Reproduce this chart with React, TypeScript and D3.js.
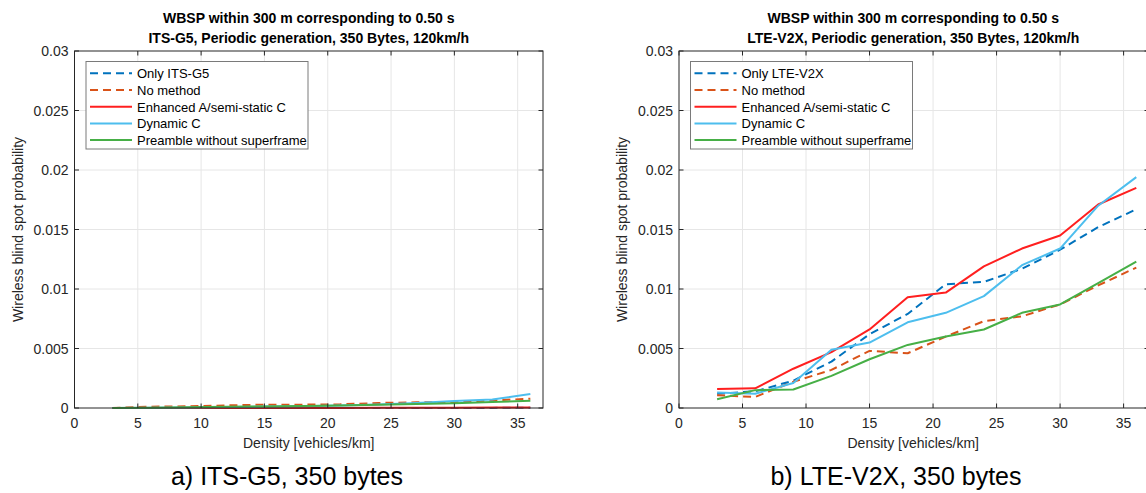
import React from "react";
import * as d3 from "d3";

// Density values (vehicles/km) shared by every series
const density = [3, 6, 9, 12, 15, 18, 21, 24, 27, 30, 33, 36];

const xTicks = [0, 5, 10, 15, 20, 25, 30, 35];
const yTicks = [0, 0.005, 0.01, 0.015, 0.02, 0.025, 0.03];

// ITS-G5 panel
const itsOnly = [0, 0, 0, 0, 0, 0, 0, 0, 0.00001, 0.00001, 0.00001, 0.00002];
const itsNoMethod = [0, 0.00011, 0.00014, 0.00022, 0.00028, 0.00028, 0.00031, 0.00042, 0.00048, 0.0005, 0.00064, 0.00078];
const itsEnhanced = [0, 0, 0, 0, 0, 0.00001, 0.00001, 0.00002, 0.00002, 0.00003, 0.00004, 0.00005];
const itsDynamic = [0, 0.00002, 0.00005, 0.00008, 0.00012, 0.00015, 0.0002, 0.0003, 0.00042, 0.00058, 0.00072, 0.00118];
const itsPreamble = [0, 0.00003, 0.00006, 0.0001, 0.00013, 0.00017, 0.00022, 0.00027, 0.00033, 0.0004, 0.0005, 0.0006];

// LTE-V2X panel
const lteOnly = [0.0012, 0.0014, 0.0023, 0.0039, 0.0062, 0.0079, 0.0104, 0.0106, 0.0117, 0.0133, 0.0152, 0.0167];
const lteNoMethod = [0.00107, 0.00093, 0.0022, 0.0032, 0.0048, 0.0046, 0.006, 0.0073, 0.0077, 0.0087, 0.0103, 0.0118];
const lteEnhanced = [0.0016, 0.00165, 0.0033, 0.0047, 0.0066, 0.0093, 0.0097, 0.0119, 0.0134, 0.0145, 0.0171, 0.0185];
const lteDynamic = [0.0013, 0.0012, 0.0021, 0.0049, 0.0055, 0.0072, 0.008, 0.0094, 0.012, 0.0134, 0.017, 0.0194];
const ltePreamble = [0.00073, 0.0015, 0.00155, 0.0027, 0.0041, 0.0053, 0.006, 0.0066, 0.008, 0.0087, 0.0105, 0.0123];

const methodNames = ["No method", "Enhanced A/semi-static C", "Dynamic C", "Preamble without superframe"];
const colors = ["#0072BD", "#D95319", "#FF1F1F", "#4DBEEE", "#46AF46"];
const dashed = [true, true, false, false, false];

type Panel = {
  left: number;
  right: number;
  title1: string;
  title2: string;
  caption: string;
  captionX: number;
  onlyName: string;
  series: number[][];
};

const panels: Panel[] = [
  {
    left: 74.5,
    right: 543,
    title1: "WBSP within 300 m corresponding to 0.50 s",
    title2: "ITS-G5, Periodic generation, 350 Bytes, 120km/h",
    caption: "a) ITS-G5, 350 bytes",
    captionX: 287,
    onlyName: "Only ITS-G5",
    series: [itsOnly, itsNoMethod, itsEnhanced, itsDynamic, itsPreamble],
  },
  {
    left: 679,
    right: 1149,
    title1: "WBSP within 300 m corresponding to 0.50 s",
    title2: "LTE-V2X, Periodic generation, 350 Bytes, 120km/h",
    caption: "b) LTE-V2X, 350 bytes",
    captionX: 896,
    onlyName: "Only LTE-V2X",
    series: [lteOnly, lteNoMethod, lteEnhanced, lteDynamic, ltePreamble],
  },
];

const TOP = 51;
const BOTTOM = 408;
const FONT = "'Liberation Sans', Arial, Helvetica, sans-serif";
const AXIS = "#262626";
const GRID = "#e6e6e6";

function ChartPanel({ p }: { p: Panel }) {
  const x = d3.scaleLinear().domain([0, 37]).range([p.left, p.right]);
  const y = d3.scaleLinear().domain([0, 0.03]).range([BOTTOM, TOP]);
  const line = d3
    .line<[number, number]>()
    .x((d) => x(d[0]))
    .y((d) => y(d[1]));
  const names = [p.onlyName, ...methodNames];
  const cx = p.left + (543 - 74.5) / 2;
  const midY = (TOP + BOTTOM) / 2;
  const legX = p.left + 11.5;
  const legY = 61.5;
  const tickLen = 4.5;

  return (
    <g>
      <text x={cx} y={23} textAnchor="middle" fontSize={14} fontWeight="bold" fill="#000">
        {p.title1}
      </text>
      <text x={cx} y={43} textAnchor="middle" fontSize={14} fontWeight="bold" fill="#000">
        {p.title2}
      </text>
      <rect x={p.left} y={TOP} width={p.right - p.left} height={BOTTOM - TOP} fill="#fff" />
      {xTicks.slice(1).map((t) => (
        <line key={"gx" + t} x1={x(t)} x2={x(t)} y1={TOP} y2={BOTTOM} stroke={GRID} strokeWidth={1} />
      ))}
      {yTicks.slice(1, -1).map((t) => (
        <line key={"gy" + t} x1={p.left} x2={p.right} y1={y(t)} y2={y(t)} stroke={GRID} strokeWidth={1} />
      ))}
      {p.series.map((vals, i) => (
        <path
          key={"s" + i}
          d={line(density.map((d, j) => [d, vals[j]] as [number, number])) || ""}
          fill="none"
          stroke={colors[i]}
          strokeWidth={2}
          strokeDasharray={dashed[i] ? "8,5" : undefined}
          strokeLinejoin="round"
        />
      ))}
      <rect
        x={p.left}
        y={TOP}
        width={p.right - p.left}
        height={BOTTOM - TOP}
        fill="none"
        stroke={AXIS}
        strokeWidth={1}
      />
      {xTicks.map((t) => (
        <g key={"tx" + t}>
          <line x1={x(t)} x2={x(t)} y1={BOTTOM} y2={BOTTOM - tickLen} stroke={AXIS} />
          <line x1={x(t)} x2={x(t)} y1={TOP} y2={TOP + tickLen} stroke={AXIS} />
          <text x={x(t)} y={BOTTOM + 20} textAnchor="middle" fontSize={14} fill={AXIS}>
            {t}
          </text>
        </g>
      ))}
      {yTicks.map((t) => (
        <g key={"ty" + t}>
          <line x1={p.left} x2={p.left + tickLen} y1={y(t)} y2={y(t)} stroke={AXIS} />
          <line x1={p.right} x2={p.right - tickLen} y1={y(t)} y2={y(t)} stroke={AXIS} />
          <text x={p.left - 6} y={y(t) + 5} textAnchor="end" fontSize={14} fill={AXIS}>
            {t === 0 ? "0" : String(+t.toFixed(3))}
          </text>
        </g>
      ))}
      <text x={cx} y={448} textAnchor="middle" fontSize={14} fill={AXIS}>
        Density [vehicles/km]
      </text>
      <text
        transform={`translate(${p.left - 52},${midY}) rotate(-90)`}
        textAnchor="middle"
        fontSize={14}
        fill={AXIS}
      >
        Wireless blind spot probability
      </text>
      <rect x={legX} y={legY} width={222} height={87.5} fill="#fff" stroke="#7a7a7a" strokeWidth={1} />
      {names.map((n, i) => {
        const ry = 73.3 + i * 16.7;
        return (
          <g key={"l" + i}>
            <line
              x1={legX + 4}
              x2={legX + 46}
              y1={ry}
              y2={ry}
              stroke={colors[i]}
              strokeWidth={2}
              strokeDasharray={dashed[i] ? "8,5" : undefined}
            />
            <text x={legX + 51} y={ry + 5} fontSize={13} fill="#000">
              {n}
            </text>
          </g>
        );
      })}
      <text x={p.captionX} y={485} textAnchor="middle" fontSize={25} fill="#000">
        {p.caption}
      </text>
    </g>
  );
}

export default function App() {
  return (
    <svg
      width={1146}
      height={493}
      style={{ position: "absolute", left: 0, top: 0, background: "#fff" }}
      fontFamily={FONT}
    >
      <rect width={1146} height={493} fill="#fff" />
      {panels.map((p, i) => (
        <ChartPanel key={i} p={p} />
      ))}
    </svg>
  );
}
